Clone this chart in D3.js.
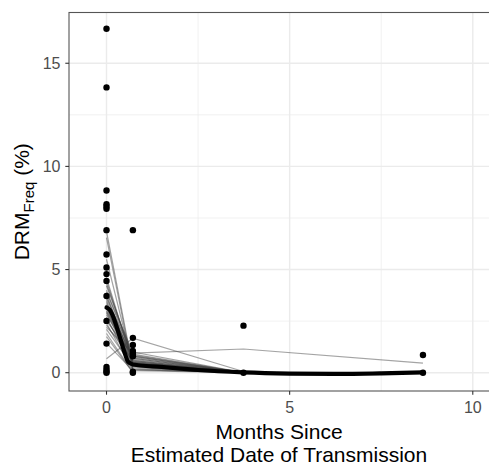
<!DOCTYPE html>
<html>
<head>
<meta charset="utf-8">
<script src="https://cdn.jsdelivr.net/npm/d3@7"></script>
<style>
  body { margin: 0; background: #fff; }
  svg { display: block; font-family: "Liberation Sans", Arial, Helvetica, sans-serif; }
</style>
</head>
<body>
<svg width="489" height="463"></svg>
<script>
// sampling times (months since estimated transmission)
var times = [0, 0.72, 3.74, 8.64];

// observed DRM frequencies (%) as [time, value]
var obsTime = [0, 0, 0, 0, 0, 0, 0, 0, 0, 0, 0, 0, 0, 0, 0, 0, 0, 0,
	0.72, 0.72, 0.72, 0.72, 0.72, 0.72, 0.72, 0.72,
	3.74, 3.74,
	8.64, 8.64];
var obsValue = [16.67, 13.83, 8.83, 8.17, 8.06, 7.95, 6.91, 5.73, 5.10, 4.78, 4.45, 3.72, 2.51, 1.41, 0.28, 0.15, 0.06, 0.0,
	6.91, 1.69, 1.34, 1.05, 0.92, 0.80, 0.05, 0.0,
	2.28, 0.0,
	0.86, 0.0];

// per-subject fitted trajectories (values at `times`, shorter arrays end early)
var subjectFits = [
	[6.85, 0.25, 0.0],
	[6.55, 0.15, 0.0],
	[5.5, 0.35, 0.02],
	[4.6, 0.45, 0.0],
	[4.45, 0.5, 0.0],
	[4.3, 0.7, 0.0],
	[4.2, 0.8, 0.0],
	[4.0, 0.6, 0.0],
	[3.9, 1.0, 0.0],
	[3.8, 0.4, 0.0],
	[3.7, 0.55, 0.0],
	[3.6, 0.9, 0.0],
	[3.5, 0.3, 0.0],
	[3.4, 0.7, 0.0],
	[3.3, 0.55, 0.0],
	[3.25, 0.8, 0.0],
	[3.2, 0.2, 0.0],
	[3.1, 0.45, 0.0],
	[3.0, 0.65, 0.0],
	[2.95, 0.5, 0.0],
	[2.9, 0.35, 0.0],
	[2.8, 0.75, 0.0],
	[2.7, 0.15, 0.0],
	[2.6, 0.5, 0.0],
	[2.5, 0.85, 0.0],
	[2.4, 0.1, 0.0],
	[2.3, 0.6, 0.0],
	[2.2, 0.95, 1.15, 0.46],
	[2.1, 0.3, 0.0],
	[1.9, 0.02],
	[1.75, 0.0],
	[1.43, 0.1],
	[0.68, 1.67, 0.06]
];

// population mean curve
var meanTime = [0, 0.09, 0.18, 0.36, 0.5, 0.59, 0.72, 1.5, 2.5, 3.74, 5, 6.2, 7.5, 8.64];
var meanValue = [3.16, 3.04, 2.72, 1.75, 0.94, 0.53, 0.4, 0.28, 0.13, 0.02, -0.04, -0.06, -0.03, 0.02];

var xTicks = [0, 5, 10];
var xMinor = [2.5, 7.5];
var yTicks = [0, 5, 10, 15];
var yMinor = [2.5, 7.5, 12.5];

var pLeft = 69, pRight = 490, pTop = 12.5, pBottom = 391;

var svg = d3.select("svg");

var x = d3.scaleLinear().domain([-1.024, 10.47]).range([pLeft, pRight]);
var y = d3.scaleLinear().domain([-0.887, 17.46]).range([pBottom, pTop]);

svg.append("defs").append("clipPath").attr("id", "panel")
	.append("rect")
	.attr("x", pLeft).attr("y", pTop)
	.attr("width", pRight - pLeft).attr("height", pBottom - pTop);

var grid = svg.append("g");
grid.selectAll("line.xminor").data(xMinor).enter().append("line")
	.attr("x1", d => x(d)).attr("x2", d => x(d))
	.attr("y1", pTop).attr("y2", pBottom)
	.attr("stroke", "#ebebeb").attr("stroke-width", 0.7);
grid.selectAll("line.yminor").data(yMinor).enter().append("line")
	.attr("y1", d => y(d)).attr("y2", d => y(d))
	.attr("x1", pLeft).attr("x2", pRight)
	.attr("stroke", "#ebebeb").attr("stroke-width", 0.7);
grid.selectAll("line.xmajor").data(xTicks).enter().append("line")
	.attr("x1", d => x(d)).attr("x2", d => x(d))
	.attr("y1", pTop).attr("y2", pBottom)
	.attr("stroke", "#ebebeb").attr("stroke-width", 1.4);
grid.selectAll("line.ymajor").data(yTicks).enter().append("line")
	.attr("y1", d => y(d)).attr("y2", d => y(d))
	.attr("x1", pLeft).attr("x2", pRight)
	.attr("stroke", "#ebebeb").attr("stroke-width", 1.4);

var plot = svg.append("g").attr("clip-path", "url(#panel)");

var line = d3.line()
	.x((d, i) => x(times[i]))
	.y(d => y(d));

plot.selectAll("path.fit")
	.data(subjectFits)
	.enter()
	.append("path")
	.attr("class", "fit")
	.attr("d", line)
	.attr("fill", "none")
	.attr("stroke", "#404040")
	.attr("stroke-opacity", 0.48)
	.attr("stroke-width", 1.2);

var meanLine = d3.line()
	.curve(d3.curveMonotoneX)
	.x((d, i) => x(meanTime[i]))
	.y(d => y(d));

plot.append("path")
	.attr("d", meanLine(meanValue))
	.attr("fill", "none")
	.attr("stroke", "#000")
	.attr("stroke-width", 4.2)
	.attr("stroke-linecap", "round")
	.attr("stroke-linejoin", "round");

plot.selectAll("circle")
	.data(obsValue)
	.enter()
	.append("circle")
	.attr("cx", (d, i) => x(obsTime[i]))
	.attr("cy", d => y(d))
	.attr("r", 3.2)
	.attr("fill", "#000");

// panel border (right edge falls just outside the picture)
svg.append("rect")
	.attr("x", pLeft).attr("y", pTop)
	.attr("width", pRight - pLeft + 2).attr("height", pBottom - pTop)
	.attr("fill", "none")
	.attr("stroke", "#555")
	.attr("stroke-width", 1.1);

// axes
var axes = svg.append("g");
axes.selectAll("line.ytick").data(yTicks).enter().append("line")
	.attr("x1", pLeft - 3.7).attr("x2", pLeft)
	.attr("y1", d => y(d)).attr("y2", d => y(d))
	.attr("stroke", "#333").attr("stroke-width", 1.1);
axes.selectAll("text.ytick").data(yTicks).enter().append("text")
	.attr("x", pLeft - 8.5)
	.attr("y", d => y(d) + 5.6)
	.attr("text-anchor", "end")
	.attr("font-size", 16)
	.attr("fill", "#4d4d4d")
	.text(d => d);

axes.selectAll("line.xtick").data(xTicks).enter().append("line")
	.attr("y1", pBottom).attr("y2", pBottom + 3.7)
	.attr("x1", d => x(d)).attr("x2", d => x(d))
	.attr("stroke", "#333").attr("stroke-width", 1.1);
axes.selectAll("text.xtick").data(xTicks).enter().append("text")
	.attr("x", d => x(d))
	.attr("y", 413.4)
	.attr("text-anchor", "middle")
	.attr("font-size", 16)
	.attr("fill", "#4d4d4d")
	.text(d => d);

var cx = (pLeft + 489) / 2;
svg.append("text")
	.attr("x", cx).attr("y", 439.3)
	.attr("text-anchor", "middle")
	.attr("font-size", 21)
	.attr("fill", "#000")
	.text("Months Since");
svg.append("text")
	.attr("x", cx).attr("y", 461.5)
	.attr("text-anchor", "middle")
	.attr("font-size", 21)
	.attr("fill", "#000")
	.text("Estimated Date of Transmission");

var ytitle = svg.append("text")
	.attr("transform", "translate(28.5," + ((pTop + pBottom) / 2) + ") rotate(-90)")
	.attr("text-anchor", "middle")
	.attr("font-size", 21)
	.attr("fill", "#000");
ytitle.append("tspan").text("DRM");
ytitle.append("tspan").attr("font-size", 15).attr("dy", 5).text("Freq");
ytitle.append("tspan").attr("dy", -5).text(" (%)");
</script>
</body>
</html>
